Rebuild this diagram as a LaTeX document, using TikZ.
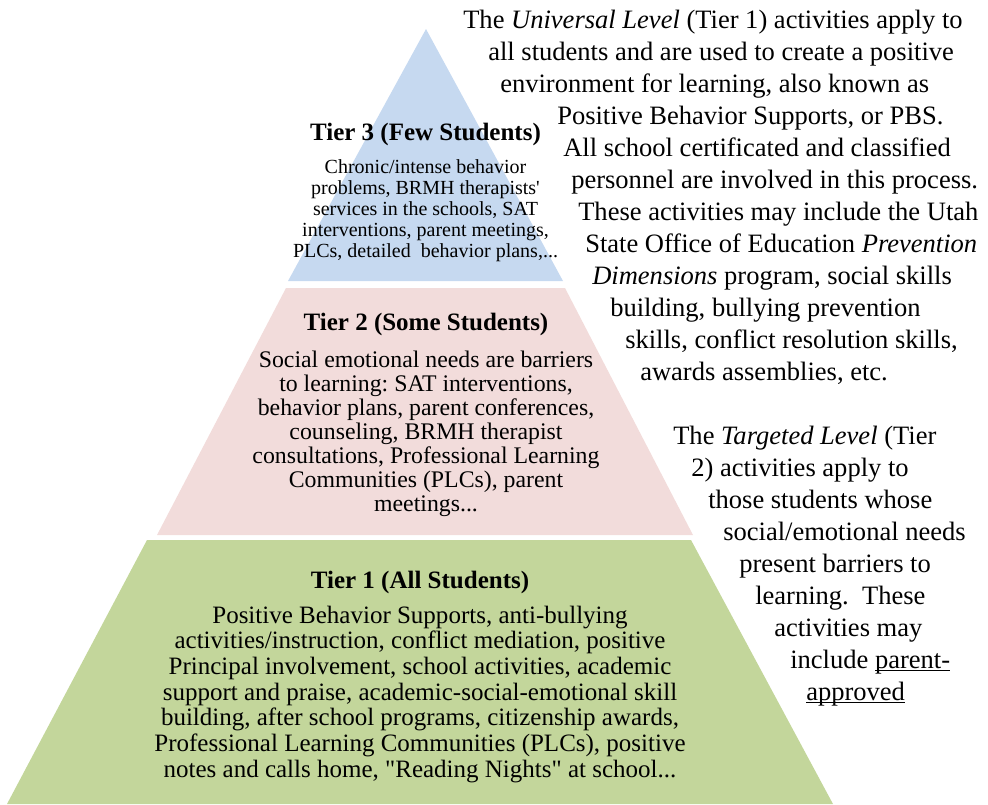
\documentclass[tikz,border=0pt]{standalone}
\usepackage{fontspec}
\setmainfont{Liberation Serif}[Ligatures=TeXOff]
\frenchspacing
\definecolor{tierthree}{HTML}{C6D9F0}
\definecolor{tiertwo}{HTML}{F2DCDB}
\definecolor{tierone}{HTML}{C3D69B}
\newcommand{\myuline}[1]{\setbox0\hbox{#1}\rlap{\rule[-2.4pt]{\wd0}{0.7pt}}#1}
\begin{document}
\begin{tikzpicture}[x=0.75pt,y=-0.75pt]
\tikzset{
  ttl/.style={anchor=base, inner sep=0pt, font=\fontsize{18.75}{19.5}\selectfont\bfseries},
  tthree/.style={anchor=base, inner sep=0pt, font=\fontsize{15}{15.75}\selectfont},
  ttwo/.style={anchor=base, inner sep=0pt, font=\fontsize{17.85}{18}\selectfont},
  tone/.style={anchor=base, inner sep=0pt, font=\fontsize{18.75}{19.5}\selectfont},
  side/.style={anchor=base west, inner sep=0pt, font=\fontsize{19.9}{24}\selectfont},
}
\useasboundingbox (0,0) rectangle (988,804);
% pyramid tiers
\fill[tierthree] (426,29) -- (563,281) -- (288,281) -- cycle;
\fill[tiertwo] (286,288) -- (565,288) -- (693,535) -- (157,535) -- cycle;
\fill[tierone] (147,540) -- (691,540) -- (833,804) -- (7,804) -- cycle;

% Tier 3
\node[ttl] (t3title) at (425.5,140) {Tier 3 (Few Students)};
\node[tthree] (t3a) at (425.5,173) {Chronic/intense behavior};
\node[tthree] (t3b) at (425.5,194) {problems, BRMH therapists'};
\node[tthree] (t3c) at (425.5,215) {services in the schools, SAT};
\node[tthree] (t3d) at (425.5,236) {interventions, parent meetings,};
\node[tthree] (t3e) at (425.5,257) {PLCs, detailed~ behavior plans,...};

% Tier 2
\node[ttl] (t2title) at (426,330) {Tier 2 (Some Students)};
\node[ttwo] (t2a) at (426,367) {Social emotional needs are barriers};
\node[ttwo] (t2b) at (426,391) {to learning: SAT interventions,};
\node[ttwo] (t2c) at (426,415) {behavior plans, parent conferences,};
\node[ttwo] (t2d) at (426,439) {counseling, BRMH therapist};
\node[ttwo] (t2e) at (426,463) {consultations, Professional Learning};
\node[ttwo] (t2f) at (426,487) {Communities (PLCs), parent};
\node[ttwo] (t2g) at (426,511) {meetings...};

% Tier 1
\node[ttl] (t1title) at (420,588) {Tier 1 (All Students)};
\node[tone] (t1a) at (420,623) {Positive Behavior Supports, anti-bullying};
\node[tone] (t1b) at (420,648.7) {activities/instruction, conflict mediation, positive};
\node[tone] (t1c) at (420,674.4) {Principal involvement, school activities, academic};
\node[tone] (t1d) at (420,700.1) {support and praise, academic-social-emotional skill};
\node[tone] (t1e) at (420,725.8) {building, after school programs, citizenship awards,};
\node[tone] (t1f) at (420,751.5) {Professional Learning Communities (PLCs), positive};
\node[tone] (t1g) at (420,777.2) {notes and calls home, "Reading Nights" at school...};

% Universal level text
\node[side] (u1) at (463,28) {The \textit{Universal Level} (Tier 1) activities apply to};
\node[side] (u2) at (488,60) {all students and are used to create a positive};
\node[side] (u3) at (500,92) {environment for learning, also known as};
\node[side] (u4) at (557,124) {Positive Behavior Supports, or PBS.};
\node[side] (u5) at (563,156) {All school certificated and classified};
\node[side] (u6) at (571,188) {personnel are involved in this process.};
\node[side] (u7) at (578,220) {These activities may include the Utah};
\node[side] (u8) at (585,252) {State Office of Education \textit{Prevention}};
\node[side] (u9) at (592,284) {\textit{Dimensions} program, social skills};
\node[side] (u10) at (610,316) {building, bullying prevention};
\node[side] (u11) at (625,348) {skills, conflict resolution skills,};
\node[side] (u12) at (640,380) {awards assemblies, etc.};

% Targeted level text
\node[side] (g1) at (673,444) {The \textit{Targeted Level} (Tier};
\node[side] (g2) at (691,476) {2) activities apply to};
\node[side] (g3) at (708,508) {those students whose};
\node[side] (g4) at (723,540) {social/emotional needs};
\node[side] (g5) at (739,572) {present barriers to};
\node[side] (g6) at (755,604) {learning.~ These};
\node[side] (g7) at (774,636) {activities may};
\node[side] (g8) at (790,668) {include \myuline{parent-}};
\node[side] (g9) at (806,700) {\myuline{approved}};
\end{tikzpicture}
\end{document}
